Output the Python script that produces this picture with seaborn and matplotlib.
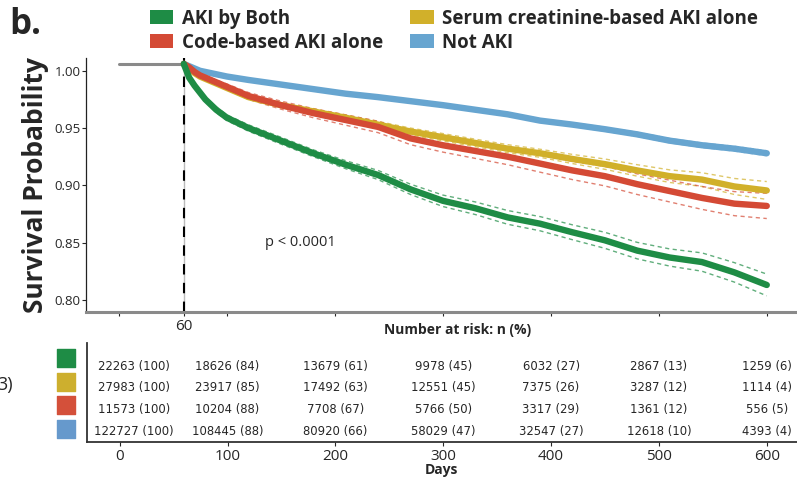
import matplotlib.pyplot as plt
import pandas as pd
import seaborn as sns
from matplotlib.patches import Patch
from matplotlib.transforms import blended_transform_factory

sns.set_style("white")
plt.rcParams["font.family"] = ["Open Sans", "DejaVu Sans"]

# %% Data
groups = ["AKI by Both", "Code-based AKI alone", "Serum creatinine-based AKI alone", "Not AKI"]
colors = {
    "AKI by Both": "#1E8C45",
    "Code-based AKI alone": "#D44A35",
    "Serum creatinine-based AKI alone": "#D1B02A",
    "Not AKI": "#67A5D0",
}

days = [60, 65, 70, 75, 80, 90, 100, 120, 150, 180, 210, 240, 270, 300,
        330, 360, 390, 420, 450, 480, 510, 540, 570, 600]
surv_both = [1.006, 0.994, 0.987, 0.981, 0.975, 0.966, 0.959, 0.950, 0.939, 0.928,
             0.918, 0.909, 0.8965, 0.8865, 0.880, 0.872, 0.8665, 0.859, 0.852, 0.843,
             0.837, 0.833, 0.824, 0.813]
surv_code = [1.006, 1.003, 0.999, 0.996, 0.994, 0.990, 0.986, 0.978, 0.970, 0.963,
             0.957, 0.951, 0.941, 0.935, 0.930, 0.925, 0.919, 0.913, 0.908, 0.901,
             0.895, 0.889, 0.884, 0.882]
surv_serum = [1.006, 1.002, 0.998, 0.995, 0.993, 0.989, 0.985, 0.977, 0.970, 0.9645,
              0.959, 0.953, 0.947, 0.942, 0.937, 0.932, 0.928, 0.923, 0.9185, 0.913,
              0.908, 0.905, 0.899, 0.8955]
surv_not = [1.006, 1.004, 1.002, 1.000, 0.999, 0.997, 0.995, 0.992, 0.988, 0.984,
            0.980, 0.977, 0.9735, 0.970, 0.966, 0.962, 0.9565, 0.953, 0.949, 0.9445,
            0.939, 0.935, 0.932, 0.928]

# half-width of the 95% CI
ci_both = [0, .001, .0015, .002, .002, .0025, .0025, .0028, .003, .003, .0035, .004,
           .0045, .005, .0055, .006, .0062, .0065, .007, .0072, .0075, .008, .0085, .0095]
ci_code = [0, .0008, .0012, .0015, .0018, .002, .0025, .003, .0035, .004, .0045, .005,
           .0055, .006, .0065, .007, .0075, .008, .0085, .009, .0095, .010, .0105, .011]
ci_serum = [0, .0005, .001, .001, .0012, .0015, .0015, .0018, .002, .0022, .0025, .0028,
            .003, .0032, .0033, .0035, .0035, .004, .0045, .005, .0055, .006, .007, .0078]
ci_not = [0, .0003, .0004, .0005, .0005, .0006, .0006, .0007, .0008, .0009, .001, .001,
          .0011, .0012, .0013, .0014, .0015, .0016, .0017, .0018, .0019, .002, .0021, .0022]

pre_days = [0, 60]
pre_surv = [1.006, 1.006]

risk_days = [0, 100, 200, 300, 400, 500, 600]
n_both = [22263, 18626, 13679, 9978, 6032, 2867, 1259]
pct_both = [100, 84, 61, 45, 27, 13, 6]
n_serum = [27983, 23917, 17492, 12551, 7375, 3287, 1114]
pct_serum = [100, 85, 63, 45, 26, 12, 4]
n_code = [11573, 10204, 7708, 5766, 3317, 1361, 556]
pct_code = [100, 88, 67, 50, 29, 12, 5]
n_not = [122727, 108445, 80920, 58029, 32547, 12618, 4393]
pct_not = [100, 88, 66, 47, 27, 10, 4]

# %% Long frame for seaborn
surv = {"AKI by Both": (surv_both, ci_both),
        "Code-based AKI alone": (surv_code, ci_code),
        "Serum creatinine-based AKI alone": (surv_serum, ci_serum),
        "Not AKI": (surv_not, ci_not)}
rows = []
for g, (s, c) in surv.items():
    for d, v, h in zip(days, s, c):
        rows.append({"day": d, "surv": v, "lo": v - h, "hi": v + h, "group": g})
df = pd.DataFrame(rows)

# %% Figure
fig = plt.figure(figsize=(7.97, 4.8), dpi=100)
ax = fig.add_axes([0.108, 0.35, 0.892, 0.529])
ax_tab = fig.add_axes([0.109, 0.079, 0.891, 0.206])

XMIN, XMAX = -30.5, 628

ax.plot(pre_days, pre_surv, color="#8A8A8A", lw=2.2, zorder=3)
ax.axvline(60, color="#BBBBBB", lw=1, zorder=1)
ax.axvline(60, color="black", lw=1.5, ls=(0, (5, 4)), zorder=2)

draw_order = ["Not AKI", "Serum creatinine-based AKI alone", "Code-based AKI alone", "AKI by Both"]
for g in draw_order:
    sub = df[df["group"] == g]
    for col in ["lo", "hi"]:
        sns.lineplot(data=sub, x="day", y=col, color=colors[g], lw=1.0,
                     ls=(0, (3, 2.5)), alpha=0.7, ax=ax, legend=False)
    sns.lineplot(data=sub, x="day", y="surv", color=colors[g], lw=4.6,
                 ax=ax, legend=False, zorder=4)

ax.text(135, 0.8505, "p < 0.0001", fontsize=10.5, va="center", ha="left")

ax.set_xlim(XMIN, XMAX)
ax.set_ylim(0.7894, 1.0111)
ax.set_xticks([0, 60, 100, 200, 300, 400, 500, 600])
ax.set_xticklabels(["", "60", "", "", "", "", "", ""])
ax.set_yticks([0.80, 0.85, 0.90, 0.95, 1.00])
ax.set_yticklabels(["0.80", "0.85", "0.90", "0.95", "1.00"])
ax.tick_params(axis="y", length=3, width=0.8, pad=1, labelsize=9.5)
ax.tick_params(axis="x", length=3, width=0.8, pad=2, labelsize=11)
ax.tick_params(bottom=True, left=True)
ax.set_xlabel("")
ax.set_ylabel("Survival Probability", fontsize=19, fontweight="bold", labelpad=4)
sns.despine(ax=ax)
ax.spines["left"].set_color("#222222")
ax.spines["left"].set_linewidth(0.9)
ax.spines["bottom"].set_color("#8A8A8A")
ax.spines["bottom"].set_linewidth(2.2)

# %% Number-at-risk table
table = [(n_both, pct_both, colors["AKI by Both"]),
         (n_serum, pct_serum, "#CDAF2E"),
         (n_code, pct_code, "#D4503A"),
         (n_not, pct_not, "#6699CC")]
text_y = [0.768, 0.556, 0.328, 0.111]
box_y = [0.848, 0.611, 0.379, 0.136]
trans = blended_transform_factory(fig.transFigure, ax_tab.transAxes)
for (ns, ps, c), ty, by in zip(table, text_y, box_y):
    for d, n, p in zip(risk_days, ns, ps):
        # first column is nudged right so it clears the axis line, as in the source
        xpos = 13 if d == 0 else d
        ax_tab.text(xpos, ty, f"{n} ({p})", ha="center", va="center", fontsize=8.4,
                    family="DejaVu Sans")
    ax_tab.scatter([0.0828], [by], marker="s", s=160, color=c, transform=trans,
                   clip_on=False)

ax_tab.set_xlim(XMIN, XMAX)
ax_tab.set_ylim(0, 1)
ax_tab.set_xticks(risk_days)
ax_tab.set_yticks([])
ax_tab.tick_params(axis="x", length=3, width=0.8, pad=2, labelsize=11, bottom=True)
ax_tab.set_xlabel("Days", fontsize=10, fontweight="bold", labelpad=-1)
sns.despine(ax=ax_tab)
for s in ["left", "bottom"]:
    ax_tab.spines[s].set_color("#333333")
    ax_tab.spines[s].set_linewidth(1.3)

fig.text(0.574, 0.312, "Number at risk: n (%)", fontsize=10, fontweight="bold",
         ha="center", va="center")
fig.text(-0.003, 0.198, "3)", fontsize=13, ha="left", va="center")
fig.text(0.012, 0.948, "b.", fontsize=25, fontweight="bold", ha="left", va="center")

handles = [Patch(facecolor=colors[g], edgecolor="none") for g in groups]
fig.legend(handles, groups, ncol=2, loc="upper left", bbox_to_anchor=(0.167, 1.017),
           frameon=False, prop={"weight": "bold", "size": 13.5},
           handlelength=1.25, handleheight=0.8, handletextpad=0.45,
           columnspacing=1.45, labelspacing=0.22)

fig.savefig("out.png", dpi=100)
